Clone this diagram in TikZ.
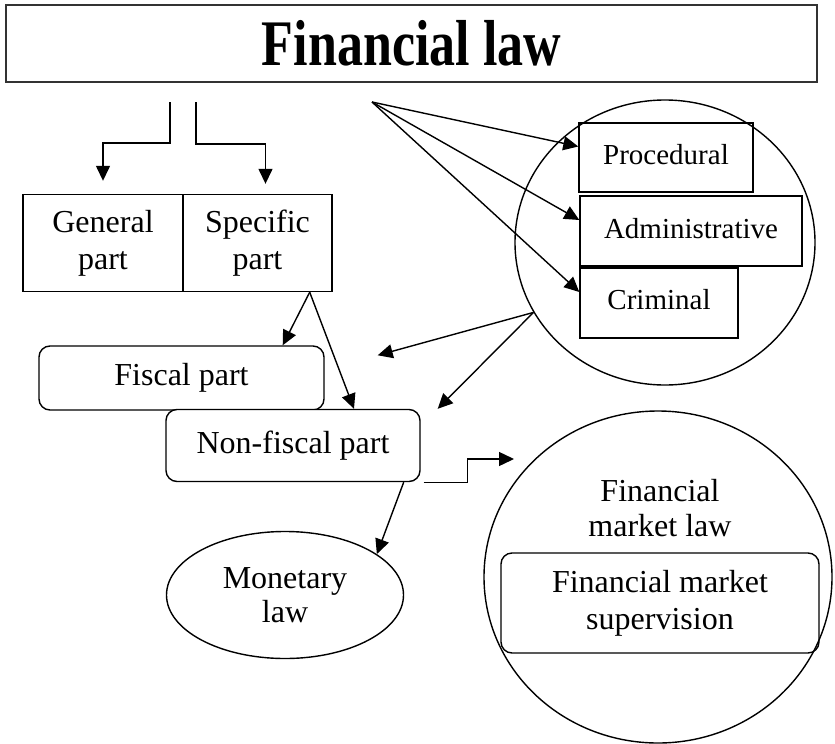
\documentclass[tikz,border=0pt]{standalone}
\usepackage{fontspec}
\setmainfont{Liberation Serif}
\usepackage{graphicx}
\usetikzlibrary{arrows.meta,positioning,shapes.geometric}

\begin{document}
\begin{tikzpicture}[x=1pt,y=-1pt,line width=1.4pt,
    box/.style={draw,rectangle,inner sep=0pt,align=center,font=\fontsize{32}{37}\selectfont},
    rbox/.style={box,rounded corners=11pt},
    small/.style={box,font=\fontsize{29}{33}\selectfont},
    oval/.style={draw,ellipse,inner sep=0pt,align=center,font=\fontsize{32}{34}\selectfont},
    arr/.style={-{Triangle[length=15pt,width=14pt]}}]
    \useasboundingbox (0,0) rectangle (835,744);

    \node[box,minimum width=811,minimum height=77,line width=1.8pt,draw=black!80] (title) at (411.5,43.5)
        {\scalebox{1}[1.25]{\fontsize{52}{56}\selectfont\bfseries Financial law}};

    \node[box,minimum width=160,minimum height=97] (general) at (103,243) {General\\part};
    \node[box,minimum width=149,minimum height=97] (specific) at (257.5,243) {Specific\\part};

    \node[rbox,minimum width=285,minimum height=64] (fiscal) at (181.5,378) {Fiscal part};
    \node[rbox,minimum width=254,minimum height=72,fill=white] (nonfiscal) at (293,445.5) {Non-fiscal part};

    \node[oval,minimum width=237,minimum height=127] (monetary) at (285,595) {Monetary\\law};

    % branches circle
    \node[oval,minimum width=300,minimum height=285] (branches) at (665,242.5) {};
    \node[small,minimum width=174,minimum height=69,text depth=6pt] (procedural) at (666,157.5) {Procedural};
    \node[small,minimum width=222,minimum height=70,text depth=6pt] (administrative) at (691,231) {Administrative};
    \node[small,minimum width=158,minimum height=70,text depth=8pt] (criminal) at (659,303) {Criminal};

    % market circle
    \node[oval,minimum width=348,minimum height=332] (market) at (658,577) {};
    \node[align=center,font=\fontsize{32}{35}\selectfont] (marketlaw) at (660,508) {Financial\\market law};
    \node[rbox,minimum width=318,minimum height=100] (supervision) at (660,603) {Financial market\\supervision};

    \coordinate (split1) at (170,102);
    \coordinate (split2) at (196,102);
    \coordinate (fan) at (372,102);
    \coordinate (steptip) at (514,459);

    \draw[arr,shorten >=13pt] (split1) -- ++(0,41) -| (general.north);
    \draw[arr,shorten >=10pt] (split2) -- ++(0,42) -| ([xshift=8pt]specific.north);

    \foreach \to in {procedural,administrative,criminal}
        \draw[arr] (fan) -- ([yshift=11pt]\to.west);

    \draw[arr] ([xshift=-23pt]specific.south east) -- ([xshift=-42pt]fiscal.north east);
    \draw[arr] ([xshift=-23pt]specific.south east) -- ([xshift=61pt]nonfiscal.north);
    \draw[arr] (branches.208) -- ([xshift=53pt,yshift=-10pt]fiscal.north east);
    \draw[arr] (branches.208) -- ([xshift=17pt]nonfiscal.north east);
    \draw[arr] ([xshift=-17pt]nonfiscal.south east) -- (monetary.24);
    \draw[arr] ([xshift=3pt]nonfiscal.south east) -- ++(44,0) |- (steptip);
\end{tikzpicture}
\end{document}
